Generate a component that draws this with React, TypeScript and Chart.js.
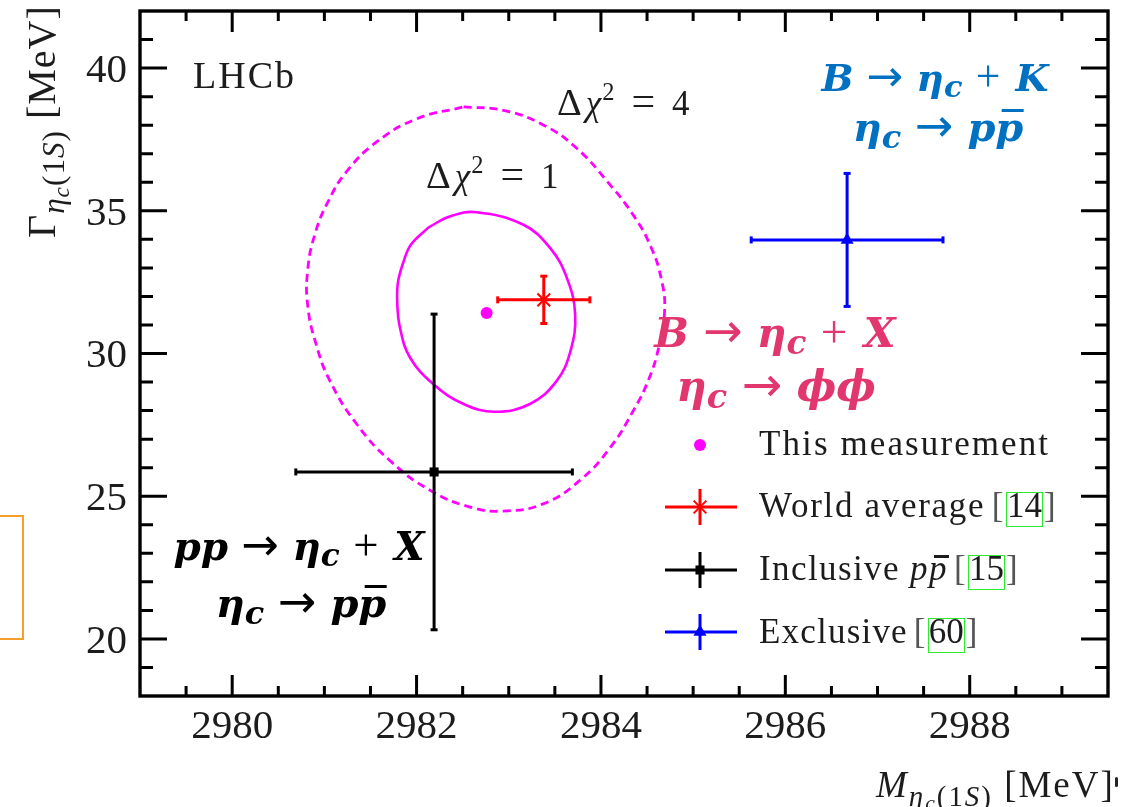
import React, { useEffect, useRef } from 'react';
import { Chart, registerables } from 'chart.js';

Chart.register(...registerables);

const W = 1148;
const H = 807;

// ---- data: ηc(1S) mass [MeV] and natural width [MeV] ----
const thisMass = [2982.76];
const thisWidth = [31.42];

const refNames = ['World average', 'Inclusive pp̄', 'Exclusive'];
const refMass = [2983.38, 2982.19, 2986.67];
const refMassErr = [0.5, 1.5, 1.04];
const refWidth = [31.88, 25.85, 33.98];
const refWidthErr = [0.83, 5.53, 2.33];

// Δχ² = 1 likelihood contour (closed, starts at the kink on the upper left)
const contour1Mass = [2982.13, 2982.36, 2982.65, 2983.16, 2983.45, 2983.63, 2983.72, 2983.67, 2983.52, 2983.23, 2982.85, 2982.51, 2982.18, 2981.93, 2981.82, 2981.79, 2981.8, 2981.86, 2981.94, 2982.13];
const contour1Width = [34.42, 34.8, 34.95, 34.51, 33.69, 32.65, 31.38, 30.09, 29.04, 28.23, 27.96, 28.23, 28.93, 29.85, 30.9, 31.83, 32.53, 33.23, 33.82, 34.42];

// Δχ² = 4 likelihood contour (closed)
const contour4Mass = [2982.51, 2982.94, 2983.38, 2983.74, 2984.07, 2984.34, 2984.54, 2984.66, 2984.69, 2984.63, 2984.52, 2984.35, 2984.1, 2983.78, 2983.38, 2982.94, 2982.58, 2982.15, 2981.71, 2981.35, 2981.06, 2980.91, 2980.82, 2980.82, 2980.9, 2981.04, 2981.24, 2981.57, 2982.0, 2982.51];
const contour4Width = [38.64, 38.52, 38.0, 37.18, 36.02, 34.9, 33.75, 32.53, 31.48, 30.26, 29.11, 27.99, 26.7, 25.58, 24.74, 24.48, 24.62, 25.2, 26.25, 27.53, 29.04, 30.33, 31.66, 32.95, 34.21, 35.32, 36.37, 37.42, 38.22, 38.64];

// axes
const xRange = [2979, 2989.5];
const yRange = [18, 42];
const xTickValues = [2980, 2982, 2984, 2986, 2988];
const yTickValues = [20, 25, 30, 35, 40];
const xMinorStep = 0.5;
const yMinorStep = 1;

// ---- styles ----
const MAGENTA = '#ff00ff';
const refColors = ['#ff0000', '#000000', '#0000ff'];
const refMarkers = ['star', 'rect', 'triangle'];
const refMarkerRadius = [9, 6.4, 7.5];
const PINK = '#e2366f';
const BLUE = '#0070c0';
const SERIF = '"Liberation Serif", "Times New Roman", serif';
const MATH = '"DejaVu Serif", serif';
const TEXT = '#1c1c1c';

const pts = (xs: number[], ys: number[]) => xs.map((x, i) => ({ x, y: ys[i] }));

function buildDatasets() {
  const ds: any[] = [];
  ds.push({
    label: 'This measurement',
    data: pts(thisMass, thisWidth),
    showLine: false,
    pointStyle: 'circle',
    pointRadius: 6,
    pointBackgroundColor: MAGENTA,
    pointBorderWidth: 0,
  });
  refNames.forEach((name, i) => {
    const m = refMass[i];
    const w = refWidth[i];
    const c = refColors[i];
    ds.push({
      label: name,
      data: [{ x: m, y: w }],
      showLine: false,
      pointStyle: refMarkers[i],
      pointRadius: refMarkerRadius[i],
      pointBackgroundColor: c,
      pointBorderColor: c,
      pointBorderWidth: refMarkers[i] === 'star' ? 2 : 0,
    });
    ds.push({
      label: name + ' σM',
      data: [{ x: m - refMassErr[i], y: w }, { x: m + refMassErr[i], y: w }],
      showLine: true,
      borderColor: c,
      borderWidth: 3,
      tension: 0,
      pointStyle: 'line',
      pointRotation: 90,
      pointRadius: 3.5,
      pointBorderColor: c,
      pointBorderWidth: 3,
    });
    ds.push({
      label: name + ' σΓ',
      data: [{ x: m, y: w - refWidthErr[i] }, { x: m, y: w + refWidthErr[i] }],
      showLine: true,
      borderColor: c,
      borderWidth: 3,
      tension: 0,
      pointStyle: 'line',
      pointRotation: 0,
      pointRadius: 3.5,
      pointBorderColor: c,
      pointBorderWidth: 3,
    });
  });
  ds.push({
    label: 'Δχ² = 1',
    data: pts(contour1Mass, contour1Width),
    showLine: true,
    borderColor: MAGENTA,
    borderWidth: 2.6,
    tension: 0.4,
    pointRadius: 0,
  });
  ds.push({
    label: 'Δχ² = 4',
    data: pts(contour4Mass, contour4Width),
    showLine: true,
    borderColor: MAGENTA,
    borderWidth: 2.8,
    borderDash: [8, 5],
    tension: 0.45,
    pointRadius: 0,
  });
  return ds;
}

// Frame with inward-pointing major and minor ticks on all four sides
const framePlugin = {
  id: 'frameTicks',
  afterDatasetsDraw(chart: any) {
    const { ctx, chartArea: a, scales } = chart;
    const x = scales.x;
    const y = scales.y;
    ctx.save();
    ctx.strokeStyle = '#000';
    ctx.lineWidth = 3;
    ctx.lineCap = 'butt';
    ctx.beginPath();
    const eps = 1e-6;
    for (let v = Math.ceil(xRange[0] / xMinorStep) * xMinorStep; v <= xRange[1] + eps; v += xMinorStep) {
      if (v <= xRange[0] + eps || v >= xRange[1] - eps) continue;
      const px = x.getPixelForValue(v);
      const major = xTickValues.some((t) => Math.abs(t - v) < eps);
      const len = major ? 21 : 10;
      ctx.moveTo(px, a.bottom);
      ctx.lineTo(px, a.bottom - len);
      ctx.moveTo(px, a.top);
      ctx.lineTo(px, a.top + len);
    }
    for (let v = Math.ceil(yRange[0] / yMinorStep) * yMinorStep; v <= yRange[1] + eps; v += yMinorStep) {
      if (v <= yRange[0] + eps || v >= yRange[1] - eps) continue;
      const py = y.getPixelForValue(v);
      const major = yTickValues.some((t) => Math.abs(t - v) < eps);
      const len = major ? 27 : 13;
      ctx.moveTo(a.left, py);
      ctx.lineTo(a.left + len, py);
      ctx.moveTo(a.right, py);
      ctx.lineTo(a.right - len, py);
    }
    ctx.stroke();
    ctx.lineWidth = 3.4;
    ctx.strokeRect(a.left, a.top, a.right - a.left, a.bottom - a.top);
    ctx.restore();
  },
};

// Legend symbols drawn inside the plot area
const legendPlugin = {
  id: 'legendSymbols',
  afterDatasetsDraw(chart: any) {
    const { ctx } = chart;
    const cx = 700;
    const rows = [445, 507, 570, 632];
    ctx.save();
    ctx.fillStyle = MAGENTA;
    ctx.beginPath();
    ctx.arc(cx, rows[0], 6, 0, Math.PI * 2);
    ctx.fill();
    refColors.forEach((c, i) => {
      const ry = rows[i + 1];
      ctx.strokeStyle = c;
      ctx.fillStyle = c;
      ctx.lineWidth = 3;
      ctx.beginPath();
      ctx.moveTo(665, ry);
      ctx.lineTo(737, ry);
      ctx.moveTo(cx, ry - 18);
      ctx.lineTo(cx, ry + 18);
      ctx.stroke();
      const r = refMarkerRadius[i];
      if (refMarkers[i] === 'star') {
        ctx.lineWidth = 2;
        ctx.beginPath();
        for (let k = 0; k < 4; k++) {
          const ang = (k * Math.PI) / 4;
          ctx.moveTo(cx - r * Math.cos(ang), ry - r * Math.sin(ang));
          ctx.lineTo(cx + r * Math.cos(ang), ry + r * Math.sin(ang));
        }
        ctx.stroke();
      } else if (refMarkers[i] === 'rect') {
        const s = r / Math.SQRT2;
        ctx.fillRect(cx - s, ry - s, 2 * s, 2 * s);
      } else {
        ctx.beginPath();
        ctx.moveTo(cx, ry - r);
        ctx.lineTo(cx + r * 0.87, ry + r * 0.5);
        ctx.lineTo(cx - r * 0.87, ry + r * 0.5);
        ctx.closePath();
        ctx.fill();
      }
    });
    ctx.restore();
  },
};

const noPad = (s: any) => {
  s.paddingTop = 0;
  s.paddingBottom = 0;
  s.paddingLeft = 0;
  s.paddingRight = 0;
};

function makeConfig(): any {
  const tickFont = { family: SERIF, size: 41 };
  return {
    type: 'scatter',
    data: { datasets: buildDatasets() },
    options: {
      responsive: false,
      animation: false,
      events: [],
      layout: { padding: { left: 0, right: 40, top: 9, bottom: 0 } },
      plugins: { legend: { display: false }, tooltip: { enabled: false } },
      scales: {
        x: {
          type: 'linear',
          position: 'bottom',
          min: xRange[0],
          max: xRange[1],
          grid: { display: false, drawTicks: false },
          border: { display: false },
          ticks: {
            font: tickFont,
            color: TEXT,
            padding: 7,
            maxRotation: 0,
            autoSkip: false,
            callback: (v: any) => String(v),
          },
          afterBuildTicks: (s: any) => {
            s.ticks = xTickValues.map((v) => ({ value: v }));
          },
          afterFit: (s: any) => {
            s.height = 111;
            noPad(s);
          },
        },
        y: {
          type: 'linear',
          position: 'left',
          min: yRange[0],
          max: yRange[1],
          grid: { display: false, drawTicks: false },
          border: { display: false },
          ticks: { font: tickFont, color: TEXT, padding: 13, autoSkip: false, labelOffset: 3, callback: (v: any) => String(v) },
          afterBuildTicks: (s: any) => {
            s.ticks = yTickValues.map((v) => ({ value: v }));
          },
          afterFit: (s: any) => {
            s.width = 140;
            noPad(s);
          },
        },
      },
    },
    plugins: [framePlugin, legendPlugin],
  };
}

// ---- text helpers ----
const ASC = 0.8375; // baseline offset for line-height 1 (Liberation Serif)
const ASC_DV = 0.846; // same for DejaVu Serif

function Txt(props: { x: number; base: number; size: number; center?: boolean; font?: string; style?: any; children: any }) {
  const { x, base, size, center, style, children } = props;
  const font = props.font || SERIF;
  const asc = font === MATH ? ASC_DV : ASC;
  return (
    <div
      style={{
        position: 'absolute',
        left: x,
        top: base - asc * size,
        fontFamily: font,
        fontSize: size,
        lineHeight: `${size}px`,
        whiteSpace: 'nowrap',
        color: TEXT,
        transform: center ? 'translateX(-50%)' : undefined,
        ...style,
      }}
    >
      {children}
    </div>
  );
}

const I = ({ children }: any) => <span style={{ fontStyle: 'italic' }}>{children}</span>;
const BI = ({ children }: any) => <span style={{ fontStyle: 'italic', fontWeight: 700 }}>{children}</span>;
const BSub = ({ children }: any) => (
  <span style={{ fontStyle: 'italic', fontWeight: 700, fontSize: '0.8em', lineHeight: 0, position: 'relative', top: '0.2em' }}>
    {children}
  </span>
);
const Arrow = () => (
  <span style={{ fontFamily: '"DejaVu Sans", sans-serif', fontStyle: 'normal', fontWeight: 400, fontSize: '1.15em', lineHeight: 0, margin: '0 0.3em' }}>
    →
  </span>
);
const Plus = () => (
  <span style={{ fontFamily: SERIF, fontStyle: 'normal', fontWeight: 400, fontSize: '1.15em', lineHeight: 0, margin: '0 0.35em 0 0.3em' }}>
    +
  </span>
);
// letter with a bar over it (antiparticle)
const Bar = ({ children, lift }: any) => (
  <span style={{ position: 'relative', display: 'inline-block' }}>
    {children}
    <span
      style={{
        position: 'absolute',
        left: '0.15em',
        right: '-0.02em',
        top: lift,
        height: '0.075em',
        background: 'currentColor',
      }}
    />
  </span>
);
const Ref = ({ children }: any) => (
  <span style={{ marginLeft: -4 }}>
    <span style={{ color: '#555' }}>[</span>
    <span
      style={{
        display: 'inline-block',
        border: '1.5px solid #33e833',
        lineHeight: '25px',
        paddingBottom: 8,
        margin: '0 1px',
        letterSpacing: 0,
      }}
    >
      {children}
    </span>
    <span style={{ color: '#555' }}>]</span>
  </span>
);

const Subscript = () => (
  <span style={{ fontSize: '0.78em', lineHeight: 0, position: 'relative', top: '0.3em' }}>
    <I>η</I>
    <span style={{ fontSize: '0.75em', position: 'relative', top: '0.2em' }}>
      <I>c</I>
    </span>
    (1<I>S</I>)
  </span>
);

const Eq = () => <span style={{ margin: '0 0.38em', fontSize: '1.2em', lineHeight: 0 }}>=</span>;
const Sup2 = () => <span style={{ fontSize: '0.7em', lineHeight: 0, position: 'relative', top: '-0.6em' }}>2</span>;
const Delta = () => <span style={{ marginRight: 3, fontSize: '1.1em', lineHeight: 0 }}>Δ</span>;

export default function App() {
  const ref = useRef<HTMLCanvasElement | null>(null);
  useEffect(() => {
    const chart = new Chart(ref.current as HTMLCanvasElement, makeConfig());
    return () => chart.destroy();
  }, []);

  return (
    <div style={{ position: 'absolute', left: 0, top: 0, width: W, height: H, overflow: 'hidden', background: '#fff' }}>
      <canvas ref={ref} width={W} height={H} style={{ position: 'absolute', left: 0, top: 0, width: W, height: H }} />

      {/* y-axis title */}
      <div
        style={{
          position: 'absolute',
          left: 55 - ASC * 40,
          top: 238,
          transformOrigin: '0 0',
          transform: 'rotate(-90deg)',
          fontFamily: SERIF,
          fontSize: 40,
          lineHeight: '40px',
          whiteSpace: 'nowrap',
          color: TEXT,
          letterSpacing: '1px',
        }}
      >
        Γ<Subscript /> [MeV]
      </div>

      {/* x-axis title */}
      <Txt x={876} base={797} size={37} style={{ letterSpacing: '2px' }}>
        <I>M</I>
        <Subscript /> [MeV]
      </Txt>
      <div style={{ position: 'absolute', left: 1115, top: 777, width: 3, height: 10, background: '#222', borderRadius: 2 }} />

      {/* experiment label and contour labels */}
      <Txt x={193} base={88} size={38} style={{ letterSpacing: '2px' }}>
        LHCb
      </Txt>
      <Txt x={557} base={115} size={35} style={{ letterSpacing: '1px' }}>
        <Delta />
        <I>χ</I>
        <Sup2 />
        <Eq />4
      </Txt>
      <Txt x={426} base={188} size={35} style={{ letterSpacing: '1px' }}>
        <Delta />
        <I>χ</I>
        <Sup2 />
        <Eq />1
      </Txt>

      {/* legend */}
      <Txt x={759} base={455} size={35} style={{ letterSpacing: '2.1px' }}>
        This measurement
      </Txt>
      <Txt x={759} base={517} size={35} style={{ letterSpacing: '1.7px' }}>
        World average <Ref>14</Ref>
      </Txt>
      <Txt x={759} base={580} size={35} style={{ letterSpacing: '1.4px' }}>
        Inclusive <I>p</I>
        <I>
          <Bar lift="0.12em">p</Bar>
        </I>{' '}
        <Ref>15</Ref>
      </Txt>
      <Txt x={759} base={643} size={35} style={{ letterSpacing: '1.2px' }}>
        Exclusive <Ref>60</Ref>
      </Txt>

      {/* decay-channel annotations */}
      <Txt x={935} base={91} size={38} font={MATH} center style={{ color: BLUE }}>
        <BI>B</BI>
        <Arrow />
        <BI>η</BI>
        <BSub>c</BSub>
        <Plus />
        <BI>K</BI>
      </Txt>
      <Txt x={938} base={141} size={40} font={MATH} center style={{ color: BLUE }}>
        <BI>η</BI>
        <BSub>c</BSub>
        <Arrow />
        <BI>p</BI>
        <BI>
          <Bar lift="0.05em">p</Bar>
        </BI>
      </Txt>

      <Txt x={775} base={348} size={41} font={MATH} center style={{ color: PINK }}>
        <BI>B</BI>
        <Arrow />
        <BI>η</BI>
        <BSub>c</BSub>
        <Plus />
        <BI>X</BI>
      </Txt>
      <Txt x={776} base={402} size={42} font={MATH} center style={{ color: PINK }}>
        <BI>η</BI>
        <BSub>c</BSub>
        <Arrow />
        <BI>ϕϕ</BI>
      </Txt>

      <Txt x={299} base={560} size={39} font={MATH} center style={{ color: '#000' }}>
        <BI>pp</BI>
        <Arrow />
        <BI>η</BI>
        <BSub>c</BSub>
        <Plus />
        <BI>X</BI>
      </Txt>
      <Txt x={301} base={617} size={40} font={MATH} center style={{ color: '#000' }}>
        <BI>η</BI>
        <BSub>c</BSub>
        <Arrow />
        <BI>p</BI>
        <BI>
          <Bar lift="0.05em">p</Bar>
        </BI>
      </Txt>

      {/* edge of neighbouring box */}
      <div style={{ position: 'absolute', left: -20, top: 515, width: 40, height: 121, border: '2px solid #f5a02c' }} />
    </div>
  );
}
